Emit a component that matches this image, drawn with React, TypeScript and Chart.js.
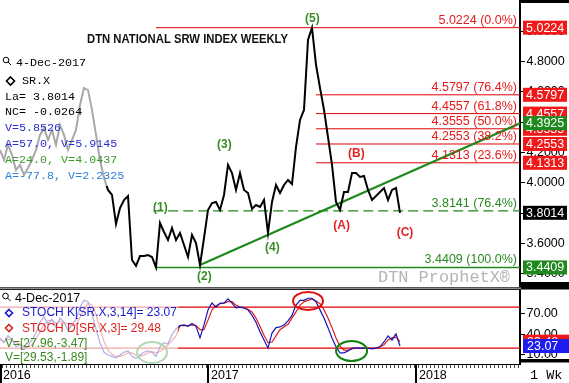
import React, { useEffect, useRef } from 'react';
import { Chart, registerables } from 'chart.js';

Chart.register(...registerables);

const SANS = 'Liberation Sans';
const MONO = 'Liberation Mono';

// weekly closes, 4-Jan-2016 .. 4-Dec-2017
const priceValues = [
  4.216, 4.150, 4.249, 4.183, 4.084, 4.117, 4.051, 4.097, 4.150, 4.216,
  4.315, 4.361, 4.282, 4.348, 4.249, 4.381, 4.315, 4.216, 4.282, 4.348,
  4.513, 4.625, 4.611, 4.480, 4.315, 4.150, 4.031, 3.952, 3.919, 3.728,
  3.833, 3.886, 3.912, 3.490, 3.451, 3.516, 3.516, 3.523, 3.510, 3.4409,
  3.734, 3.675, 3.622, 3.701, 3.622, 3.668, 3.589, 3.510, 3.655, 3.602,
  3.457, 3.635, 3.820, 3.866, 3.873, 3.820, 3.919, 4.117, 4.064, 3.952,
  4.064, 3.952, 3.932, 3.827, 3.853, 3.840, 3.886, 3.668, 3.873, 3.985,
  3.932, 3.985, 4.018, 3.991, 4.235, 4.414, 4.480, 4.941, 5.0224, 4.778,
  4.625, 4.480, 4.301, 4.117, 3.873, 3.820, 3.939, 3.939, 4.064, 4.064,
  4.038, 4.044, 3.952, 3.886, 3.912, 3.939, 3.965, 3.886, 3.952, 3.965,
  3.8014,
];

const stochK = [
  35, 28, 38, 32, 22, 25, 18, 24, 32, 42,
  58, 66, 55, 62, 50, 64, 58, 46, 54, 62,
  80, 90, 88, 70, 48, 28, 14, 10, 8, 6,
  10, 14, 16, 8, 5, 10, 14, 16, 14, 8,
  22, 28, 26, 40, 48, 53, 54, 52, 56, 52,
  35, 54, 76, 86, 80, 86, 86, 92, 86, 79,
  80, 79, 76, 68, 58, 44, 32, 20, 42, 50,
  51, 54, 60, 68, 83, 90, 90, 93, 93, 88,
  76, 64, 50, 35, 22, 13, 13, 16, 20, 20,
  20, 20, 20, 19, 20, 22, 29, 38, 32, 41,
  23.07,
];

const stochD = [
  32, 30, 33, 32, 28, 26, 22, 22, 25, 33,
  44, 55, 60, 61, 56, 59, 57, 56, 53, 54,
  65, 77, 86, 83, 69, 49, 30, 17, 11, 8,
  8, 10, 13, 13, 10, 8, 10, 13, 15, 13,
  15, 19, 25, 31, 38, 53, 53, 53, 54, 53,
  47, 47, 61, 76, 82, 85, 86, 88, 88, 83,
  80, 79, 77, 73, 64, 52, 39, 28, 29, 38,
  47, 51, 55, 64, 73, 83, 88, 90, 92, 89,
  85, 76, 64, 50, 35, 23, 17, 17, 19, 20,
  20, 20, 20, 20, 20, 22, 25, 32, 35, 36,
  29.48,
];

const priceTickValues = [3.4, 3.6, 3.8, 4.0, 4.2, 4.4, 4.6, 4.8, 5.0];
const stochTickValues = [10, 40, 70];
const yearTicks = [0, 52, 104];
const yearLabels = ['2016', '2017', '2018'];

const fibLevels = [5.0224, 4.5797, 4.4557, 4.3555, 4.2553, 4.1313];
const fibTexts = ['5.0224 (0.0%)', '4.5797 (76.4%)', '4.4557 (61.8%)', '4.3555 (50.0%)', '4.2553 (38.2%)', '4.1313 (23.6%)'];
const fibStarts = [39, 79, 79, 79, 79, 79];
const supportLevels = [3.8141, 3.4409];
const supportTexts = ['3.8141 (76.4%)', '3.4409 (100.0%)'];
const supportStarts = [38.3, 39];
const trendX = [50, 130];
const trendY = [3.457, 4.3925];

const waveTexts = ['(1)', '(2)', '(3)', '(4)', '(5)', '(A)', '(B)', '(C)'];
const waveX = [40.1, 51.1, 56.1, 68.1, 78.1, 85.4, 89.1, 101.25];
const waveY = [3.833, 3.378, 4.249, 3.569, 5.083, 3.718, 4.193, 3.671];
const waveColors = ['#3a8c28', '#3a8c28', '#3a8c28', '#3a8c28', '#3a8c28', '#e02424', '#e02424', '#e02424'];

const stochBands = [80, 20];

const RED = '#e41b1b';
const GREEN = '#2a8a22';

function fitText(ctx: CanvasRenderingContext2D, s: string, x: number, y: number, w: number) {
  const m = ctx.measureText(s).width;
  ctx.save();
  ctx.translate(x, y);
  ctx.scale(w / m, 1);
  ctx.fillText(s, 0, 0);
  ctx.restore();
}

function magnifier(ctx: CanvasRenderingContext2D, cx: number, cy: number) {
  ctx.save();
  ctx.strokeStyle = '#000';
  ctx.lineWidth = 1;
  ctx.beginPath();
  ctx.arc(cx, cy, 2.8, 0, Math.PI * 2);
  ctx.stroke();
  ctx.beginPath();
  ctx.moveTo(cx + 2, cy + 2);
  ctx.lineTo(cx + 5, cy + 5);
  ctx.stroke();
  ctx.restore();
}

function diamond(ctx: CanvasRenderingContext2D, cx: number, cy: number, h: number, color: string) {
  ctx.save();
  ctx.strokeStyle = color;
  ctx.lineWidth = 1.6;
  ctx.beginPath();
  ctx.moveTo(cx, cy - h);
  ctx.lineTo(cx + h, cy);
  ctx.lineTo(cx, cy + h);
  ctx.lineTo(cx - h, cy);
  ctx.closePath();
  ctx.stroke();
  ctx.restore();
}

const noPad = (s: any) => {
  s.paddingTop = 0;
  s.paddingBottom = 0;
  s.paddingLeft = 0;
  s.paddingRight = 0;
};

const mainPlugin = {
  id: 'mainDeco',
  afterDraw(chart: any) {
    const { ctx } = chart;
    const x = chart.scales.x;
    const y = chart.scales.y;
    ctx.save();
    // legend overlay
    ctx.fillStyle = 'rgba(255,255,255,0.66)';
    ctx.fillRect(0, 52, 125, 134);

    // title
    ctx.fillStyle = '#111';
    ctx.font = `bold 12px ${SANS}`;
    ctx.textAlign = 'left';
    ctx.textBaseline = 'middle';
    fitText(ctx, 'DTN NATIONAL SRW INDEX WEEKLY', 87, 40, 201);

    // legend texts
    magnifier(ctx, 6, 60);
    diamond(ctx, 10.5, 81, 4, '#000');
    ctx.font = `11.7px ${MONO}`;
    const rows: [string, number, number, string][] = [
      ['4-Dec-2017', 16, 63, '#000'],
      ['SR.X', 22, 81, '#000'],
      ['La= ' + priceValues[priceValues.length - 1].toFixed(4), 5, 96.5, '#000'],
      ['NC= -0.0264', 5, 112, '#000'],
      ['V=5.8526', 5, 128, '#2b2bd0'],
      ['A=57.0, V=5.9145', 5, 144, '#2b2bd0'],
      ['A=24.0, V=4.0437', 5, 160, '#3c9a2c'],
      ['A=-77.8, V=2.2325', 5, 176, '#2f7fd4'],
    ];
    rows.forEach(([t, tx, ty, c]) => {
      ctx.fillStyle = c;
      ctx.fillText(t, tx, ty);
    });

    // fib labels
    ctx.font = `12.5px ${SANS}`;
    ctx.textAlign = 'right';
    ctx.textBaseline = 'alphabetic';
    fibLevels.forEach((v, i) => {
      ctx.fillStyle = RED;
      ctx.fillText(fibTexts[i], 517, y.getPixelForValue(v) - 4);
    });
    supportLevels.forEach((v, i) => {
      ctx.fillStyle = GREEN;
      ctx.fillText(supportTexts[i], 517, y.getPixelForValue(v) - 4);
    });

    // wave labels
    ctx.font = `bold 12px ${SANS}`;
    ctx.textAlign = 'center';
    ctx.textBaseline = 'middle';
    waveTexts.forEach((t, i) => {
      ctx.fillStyle = waveColors[i];
      ctx.fillText(t, x.getPixelForValue(waveX[i]), y.getPixelForValue(waveY[i]));
    });

    // watermark
    ctx.fillStyle = '#b4b4b4';
    ctx.font = `16.5px ${MONO}`;
    ctx.textAlign = 'left';
    fitText(ctx, 'DTN ProphetX\u00ae', 378, 277.5, 132);

    // right axis value boxes
    const boxes: [number, string][] = [
      [fibLevels[0], '#f01818'],
      [fibLevels[1], '#f01818'],
      [fibLevels[2], '#f01818'],
      [fibLevels[3], '#f01818'],
      [fibLevels[4], '#f01818'],
      [fibLevels[5], '#f01818'],
      [trendY[1], '#1e8a1e'],
      [priceValues[priceValues.length - 1], '#000'],
      [supportLevels[1], '#1e8a1e'],
    ];
    ctx.font = `12.5px ${SANS}`;
    ctx.textAlign = 'left';
    ctx.textBaseline = 'middle';
    boxes.forEach(([v, c]) => {
      const py = y.getPixelForValue(v);
      ctx.fillStyle = c;
      ctx.fillRect(523, py - 7, 44, 14);
      ctx.fillStyle = '#fff';
      ctx.fillText(v.toFixed(4), 526, py + 0.5);
    });

    // frame bits
    ctx.fillStyle = '#000';
    ctx.fillRect(521, 0, 48, 3);
    ctx.fillRect(521, 282, 48, 6);
    ctx.fillStyle = '#555';
    ctx.fillRect(0, 287, 521, 1);
    ctx.restore();
  },
};

const stochPlugin = {
  id: 'stochDeco',
  afterDraw(chart: any) {
    const { ctx } = chart;
    const x = chart.scales.x;
    const y = chart.scales.y;
    ctx.save();
    // ellipses
    const ell = (cxv: number, cyv: number, rx: number, ry: number, c: string) => {
      ctx.strokeStyle = c;
      ctx.lineWidth = 2;
      ctx.beginPath();
      ctx.ellipse(x.getPixelForValue(cxv), y.getPixelForValue(cyv), rx, ry, 0, 0, Math.PI * 2);
      ctx.stroke();
    };
    ell(38, 13.6, 15, 10.5, '#1e8a1e');
    ell(77, 89, 15, 9, '#e01010');
    ell(87.9, 15.8, 15.5, 10, '#128012');

    // overlay
    ctx.fillStyle = 'rgba(255,255,255,0.66)';
    ctx.fillRect(0, 2, 178, 74);

    // legend
    magnifier(ctx, 5.5, 8);
    ctx.textAlign = 'left';
    ctx.textBaseline = 'middle';
    ctx.font = `12.5px ${SANS}`;
    ctx.fillStyle = '#000';
    ctx.fillText('4-Dec-2017', 15, 10.5);
    diamond(ctx, 9, 25, 3.5, '#1a1acc');
    diamond(ctx, 9, 40, 3.5, '#dd2222');
    ctx.font = `12px ${SANS}`;
    ctx.fillStyle = '#1a1acc';
    ctx.fillText('STOCH K[SR.X,3,14]= ' + stochK[stochK.length - 1].toFixed(2), 22, 25);
    ctx.fillStyle = '#dd2222';
    ctx.fillText('STOCH D[SR.X,3]= ' + stochD[stochD.length - 1].toFixed(2), 22, 40.5);
    ctx.fillStyle = '#3a8a1e';
    ctx.fillText('V=[27.96,-3.47]', 5, 56);
    ctx.fillText('V=[29.53,-1.89]', 5, 70);

    // right boxes
    ctx.font = `12.5px ${SANS}`;
    const bx: [number, string][] = [
      [stochD[stochD.length - 1], '#f01818'],
      [stochK[stochK.length - 1], '#1c1cf0'],
    ];
    bx.forEach(([v, c]) => {
      const py = y.getPixelForValue(v);
      ctx.fillStyle = c;
      ctx.fillRect(523, py - 7, 46, 14);
      ctx.fillStyle = '#fff';
      ctx.fillText(v.toFixed(2), 527, py + 0.5);
    });

    // frame bits
    ctx.fillStyle = '#000';
    ctx.fillRect(521, 0, 48, 1.5);
    ctx.fillRect(521, 71, 48, 3.5);
    ctx.fillStyle = '#222';
    ctx.fillRect(0, 0.5, 521, 1.5);

    // x strip small ticks and year lines
    ctx.fillStyle = '#444';
    for (let px = 2; px < 520; px += 4) ctx.fillRect(px, 77, 1, 3);
    ctx.fillStyle = '#000';
    yearTicks.forEach((v) => {
      const px = x.getPixelForValue(v);
      ctx.fillRect(Math.max(0, px - 1), 76, 2, 19);
    });

    ctx.font = `13.5px ${MONO}`;
    ctx.fillStyle = '#000';
    ctx.fillText('1 Wk', 530, 87);
    ctx.restore();
  },
};

export default function App() {
  const mainRef = useRef<HTMLCanvasElement>(null);
  const stochRef = useRef<HTMLCanvasElement>(null);

  useEffect(() => {
    document.body.style.margin = '0';
    const pricePts = priceValues.map((v, i) => ({ x: i, y: v }));
    const seg = (x0: number, x1: number, v: number) => [{ x: x0, y: v }, { x: x1, y: v }];

    const mainChart = new Chart(mainRef.current as HTMLCanvasElement, {
      type: 'line',
      data: {
        datasets: [
          { data: pricePts, borderColor: '#000', borderWidth: 2, pointRadius: 0, tension: 0 },
          { data: [{ x: trendX[0], y: trendY[0] }, { x: trendX[1], y: trendY[1] }], borderColor: '#1e8a1e', borderWidth: 2.2, pointRadius: 0 },
          ...fibLevels.map((v, i) => ({ data: seg(fibStarts[i], 130, v), borderColor: '#e00000', borderWidth: 1, pointRadius: 0 })),
          { data: seg(supportStarts[0], 130, supportLevels[0]), borderColor: '#1e8a1e', borderWidth: 1.4, borderDash: [10, 5], pointRadius: 0 },
          { data: seg(supportStarts[1], 130, supportLevels[1]), borderColor: '#1e8a1e', borderWidth: 1.5, pointRadius: 0 },
        ] as any,
      },
      options: {
        responsive: false,
        animation: false,
        devicePixelRatio: 1,
        layout: { padding: { top: 0, bottom: 1, left: 0, right: 0 } },
        plugins: { legend: { display: false }, tooltip: { enabled: false } },
        scales: {
          x: { type: 'linear', min: 0, max: 130, display: false },
          y: {
            type: 'linear',
            position: 'right',
            min: 3.312,
            max: 5.205,
            afterFit: (s: any) => { s.width = 49; noPad(s); },
            afterBuildTicks: (s: any) => { s.ticks = priceTickValues.map((v) => ({ value: v })); },
            ticks: {
              callback: (v: any) => Number(v).toFixed(4),
              font: { family: SANS, size: 12.5 },
              color: '#000',
              padding: 1.5,
            },
            grid: { drawOnChartArea: false, drawTicks: true, tickLength: 5, color: '#000' },
            border: { display: true, color: '#000', width: 2 },
          },
        },
      } as any,
      plugins: [mainPlugin],
    });

    const stochChart = new Chart(stochRef.current as HTMLCanvasElement, {
      type: 'line',
      data: {
        datasets: [
          { data: stochK.map((v, i) => ({ x: i, y: v })), borderColor: '#1414b4', borderWidth: 1.2, pointRadius: 0, tension: 0 },
          { data: stochD.map((v, i) => ({ x: i, y: v })), borderColor: '#e01c1c', borderWidth: 1.2, pointRadius: 0, tension: 0 },
          ...stochBands.map((v) => ({ data: seg(0, 130, v), borderColor: '#e00000', borderWidth: 1.2, pointRadius: 0 })),
        ] as any,
      },
      options: {
        responsive: false,
        animation: false,
        devicePixelRatio: 1,
        layout: { padding: { top: 2, bottom: 0, left: 0, right: 0 } },
        plugins: { legend: { display: false }, tooltip: { enabled: false } },
        scales: {
          x: {
            type: 'linear',
            min: 0,
            max: 130,
            position: 'bottom',
            afterFit: (s: any) => { s.height = 19; noPad(s); },
            afterBuildTicks: (s: any) => { s.ticks = yearTicks.map((v) => ({ value: v })); },
            ticks: {
              autoSkip: false,
              maxRotation: 0,
              align: 'start',
              labelOffset: 3,
              padding: 4,
              font: { family: SANS, size: 12.5 },
              color: '#000',
              callback: (v: any) => {
                const k = yearTicks.indexOf(Number(v));
                return k >= 0 ? yearLabels[k] : '';
              },
            },
            grid: { drawOnChartArea: false, drawTicks: false },
            border: { display: true, color: '#000', width: 1 },
          },
          y: {
            type: 'linear',
            position: 'right',
            min: -3.2,
            max: 105.1,
            afterFit: (s: any) => { s.width = 49; noPad(s); },
            afterBuildTicks: (s: any) => { s.ticks = stochTickValues.map((v) => ({ value: v })); },
            ticks: {
              callback: (v: any) => Number(v).toFixed(2),
              font: { family: SANS, size: 12.5 },
              color: '#000',
              padding: 1.5,
            },
            grid: { drawOnChartArea: false, drawTicks: true, tickLength: 5, color: '#000' },
            border: { display: true, color: '#000', width: 2 },
          },
        },
      } as any,
      plugins: [stochPlugin],
    });

    return () => {
      mainChart.destroy();
      stochChart.destroy();
    };
  }, []);

  return (
    <div style={{ position: 'fixed', left: 0, top: 0, width: 569, height: 383, background: '#fff' }}>
      <canvas ref={mainRef} width={569} height={288} style={{ position: 'absolute', left: 0, top: 0 }} />
      <canvas ref={stochRef} width={569} height={95} style={{ position: 'absolute', left: 0, top: 288 }} />
    </div>
  );
}
